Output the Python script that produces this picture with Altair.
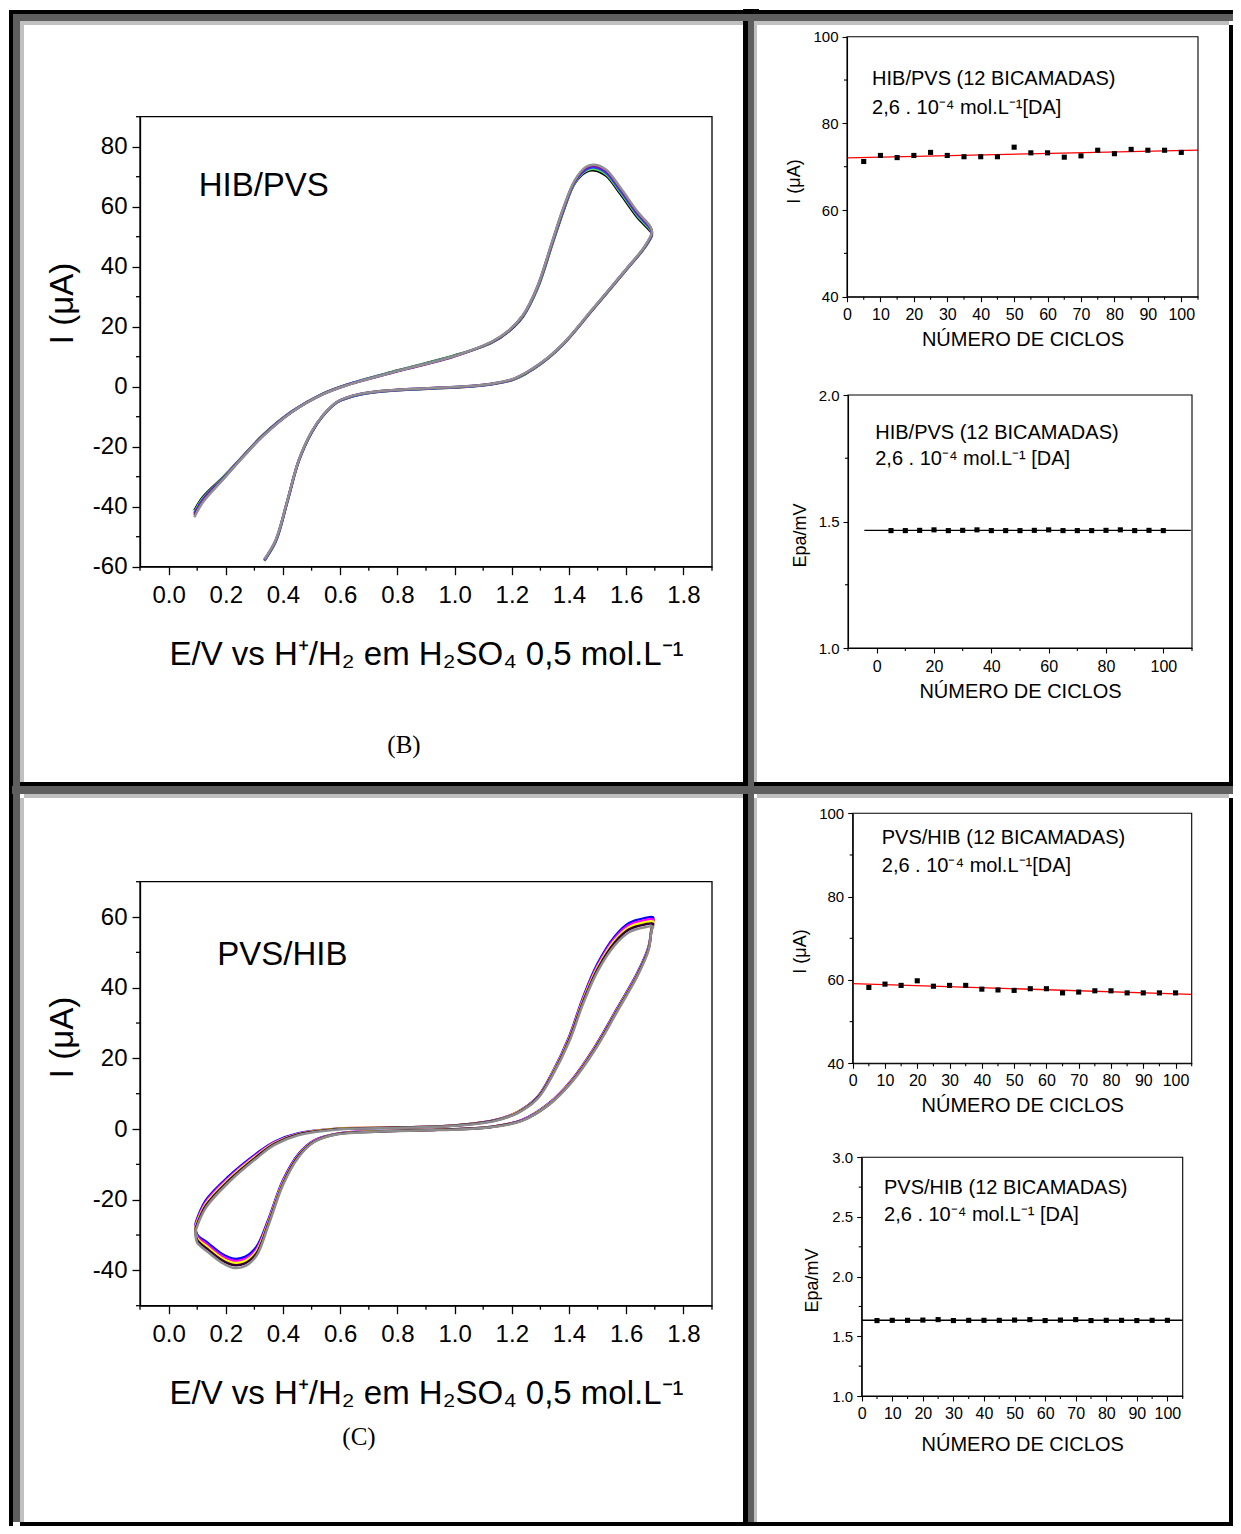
import altair as alt
import pandas as pd

W, H = 1225, 1518          # drawing size that fits the 1241x1534 window with its 8px margin
M = 8
SANS = "Liberation Sans"
SERIF = "Liberation Serif"


def px(v):
    """page pixel -> chart pixel"""
    return v - M


# ---------------- (B) HIB/PVS voltammograms ----------------
E_B = [0.09, 0.12, 0.19, 0.26, 0.33, 0.43, 0.54, 0.62, 0.80, 1.00,
       1.13, 1.19, 1.24, 1.29, 1.34, 1.38, 1.42, 1.46, 1.49, 1.53,
       1.58, 1.64, 1.685, 1.69, 1.665, 1.60, 1.48, 1.38, 1.30, 1.21,
       1.13, 1.00, 0.80, 0.67, 0.59, 0.54, 0.50, 0.455, 0.415, 0.375,
       0.335]
I_B_1 = [-41.3, -36.8, -30.2, -23.1, -16.1, -8.3, -2.3, 0.6, 5.4, 10.4,
         14.7, 18.5, 23.5, 32.8, 47.0, 58.4, 67.8, 71.6, 72.1, 70.3,
         64.2, 56.3, 51.8, 50.7, 46.4, 38.9, 25.3, 14.1, 7.5, 2.5,
         0.8, -0.3, -1.2, -2.6, -5.2, -9.7, -15.3, -24.8, -38.4, -51.5,
         -58.0]
I_B_2 = [-41.8, -37.2, -30.4, -23.2, -16.2, -8.4, -2.4, 0.5, 5.3, 10.3,
         14.8, 18.6, 23.7, 33.0, 47.3, 58.7, 68.0, 72.0, 72.6, 70.8,
         64.8, 56.9, 52.2, 50.9, 46.5, 39.0, 25.4, 14.2, 7.6, 2.6,
         0.9, -0.2, -1.1, -2.5, -5.1, -9.6, -15.2, -24.7, -38.3, -51.4,
         -57.9]
I_B_3 = [-42.3, -37.6, -30.6, -23.3, -16.3, -8.4, -2.4, 0.5, 5.2, 10.2,
         14.9, 18.7, 23.8, 33.2, 47.6, 59.0, 68.2, 72.4, 73.1, 71.3,
         65.3, 57.4, 52.6, 51.1, 46.6, 39.1, 25.5, 14.3, 7.7, 2.7,
         0.9, -0.2, -1.1, -2.5, -5.1, -9.6, -15.2, -24.7, -38.3, -51.3,
         -57.8]
I_B_4 = [-42.8, -38.0, -30.8, -23.4, -16.4, -8.5, -2.5, 0.4, 5.1, 10.1,
         14.9, 18.7, 23.9, 33.4, 47.8, 59.3, 68.5, 72.9, 73.6, 71.9,
         65.9, 57.9, 53.0, 51.3, 46.7, 39.1, 25.5, 14.3, 7.7, 2.7,
         1.0, -0.1, -1.0, -2.4, -5.0, -9.5, -15.1, -24.6, -38.1, -51.1,
         -57.6]
I_B_5 = [-43.5, -38.5, -31.0, -23.5, -16.5, -8.5, -2.5, 0.4, 5.2, 10.2,
         15.0, 18.8, 24.0, 33.5, 48.0, 59.5, 68.8, 73.3, 74.0, 72.3,
         66.3, 58.3, 53.3, 51.5, 46.8, 39.2, 25.6, 14.4, 7.8, 2.8,
         1.0, -0.1, -1.0, -2.4, -5.0, -9.5, -15.0, -24.5, -38.0, -51.0,
         -57.5]
CICLOS_B = ["ciclo 1", "ciclo 2", "ciclo 3", "ciclo 4", "ciclo 5"]
CORES_B = ["#000000", "#5ee05e", "#2a3cff", "#8a0a9a", "#909090"]

# ---------------- (C) PVS/HIB voltammograms ----------------
E_C = [0.095, 0.13, 0.21, 0.31, 0.37, 0.455, 0.59, 0.80, 1.00, 1.14,
       1.22, 1.29, 1.34, 1.40, 1.45, 1.50, 1.56, 1.61, 1.665, 1.694,
       1.689, 1.678, 1.638, 1.571, 1.49, 1.409, 1.329, 1.235, 1.127, 0.94,
       0.74, 0.59, 0.51, 0.455, 0.40, 0.348, 0.307, 0.267, 0.227, 0.186,
       0.133, 0.099, 0.095]
I_C_1 = [-26.5, -20.2, -13.4, -6.8, -3.6, -1.2, 0.1, 0.4, 1.0, 2.5,
         4.8, 9.1, 15.7, 26.0, 37.4, 46.8, 54.5, 58.3, 59.7, 59.9,
         57.2, 51.5, 44.0, 34.5, 23.2, 13.8, 7.2, 2.5, 0.6, -0.2,
         -0.6, -1.3, -3.2, -7.0, -14.5, -25.8, -33.4, -36.2, -36.7, -35.3,
         -32.0, -29.8, -26.5]
I_C_2 = [-27.0, -20.7, -13.8, -7.1, -3.8, -1.3, 0.1, 0.4, 1.0, 2.5,
         4.8, 9.0, 15.5, 25.7, 37.0, 46.3, 54.0, 57.7, 59.1, 59.3,
         57.0, 51.3, 43.8, 34.3, 23.0, 13.7, 7.1, 2.5, 0.6, -0.2,
         -0.6, -1.3, -3.3, -7.2, -14.8, -26.2, -34.0, -36.8, -37.3, -35.9,
         -32.6, -30.3, -27.0]
I_C_3 = [-27.5, -21.2, -14.2, -7.4, -4.0, -1.4, 0.1, 0.4, 1.0, 2.4,
         4.7, 8.9, 15.3, 25.4, 36.6, 45.8, 53.4, 57.1, 58.5, 58.7,
         56.8, 51.1, 43.6, 34.1, 22.8, 13.5, 7.0, 2.4, 0.6, -0.2,
         -0.6, -1.4, -3.4, -7.4, -15.1, -26.6, -34.6, -37.4, -37.9, -36.5,
         -33.2, -30.8, -27.5]
I_C_4 = [-28.0, -21.7, -14.6, -7.7, -4.2, -1.5, 0.0, 0.4, 1.0, 2.4,
         4.6, 8.8, 15.1, 25.1, 36.2, 45.3, 52.8, 56.5, 57.9, 58.1,
         56.6, 50.9, 43.4, 33.9, 22.6, 13.4, 6.9, 2.4, 0.6, -0.2,
         -0.7, -1.4, -3.5, -7.6, -15.4, -27.0, -35.2, -38.0, -38.5, -37.1,
         -33.8, -31.3, -28.0]
I_C_5 = [-28.6, -22.3, -15.1, -8.1, -4.5, -1.7, -0.1, 0.3, 0.9, 2.3,
         4.5, 8.6, 14.8, 24.6, 35.6, 44.6, 52.0, 55.7, 57.1, 57.3,
         56.3, 50.6, 43.1, 33.6, 22.3, 13.2, 6.8, 2.3, 0.5, -0.3,
         -0.7, -1.5, -3.6, -7.9, -15.8, -27.5, -35.9, -38.8, -39.3, -37.8,
         -34.5, -32.0, -28.6]
CICLOS_C = ["ciclo 1", "ciclo 2", "ciclo 3", "ciclo 4", "ciclo 5"]
CORES_C = ["#0000ff", "#ff00ff", "#ffff00", "#300030", "#8c8c8c"]

# ---------------- stability panels ----------------
CICLOS = [5, 10, 15, 20, 25, 30, 35, 40, 45, 50,
          55, 60, 65, 70, 75, 80, 85, 90, 95, 100]
I_HIB = [71.2, 72.6, 72.1, 72.6, 73.3, 72.6, 72.3, 72.3, 72.3, 74.5,
         73.2, 73.2, 72.2, 72.5, 73.8, 73.0, 74.0, 73.8, 73.8, 73.3]
EPA_HIB = [1.464, 1.464, 1.465, 1.467, 1.464, 1.465, 1.467, 1.464, 1.464, 1.464,
           1.465, 1.467, 1.464, 1.464, 1.464, 1.465, 1.467, 1.464, 1.465, 1.464]
I_PVS = [58.2, 59.0, 58.7, 59.8, 58.5, 58.7, 58.7, 57.8, 57.6, 57.5,
         57.9, 57.9, 56.9, 57.1, 57.4, 57.4, 56.9, 56.9, 56.9, 56.9]
EPA_PVS = [1.632, 1.634, 1.634, 1.636, 1.640, 1.632, 1.634, 1.634, 1.634, 1.636,
           1.640, 1.632, 1.636, 1.640, 1.632, 1.634, 1.634, 1.632, 1.634, 1.634]

# ---------------- tick values (major = labelled, minor = short) ----------------
CV_X_MAJOR = [0.0, 0.2, 0.4, 0.6, 0.8, 1.0, 1.2, 1.4, 1.6, 1.8]
CV_X_MINOR = [-0.1, 0.1, 0.3, 0.5, 0.7, 0.9, 1.1, 1.3, 1.5, 1.7, 1.9]
CVB_Y_MAJOR = [-60, -40, -20, 0, 20, 40, 60, 80]
CVB_Y_MINOR = [-50, -30, -10, 10, 30, 50, 70, 90]
CVC_Y_MAJOR = [-40, -20, 0, 20, 40, 60]
CVC_Y_MINOR = [-50, -30, -10, 10, 30, 50, 70]
CIC_MAJOR = [0, 10, 20, 30, 40, 50, 60, 70, 80, 90, 100]
CIC_MINOR = [5, 15, 25, 35, 45, 55, 65, 75, 85, 95, 105]
CIC_B_MAJOR = [0, 20, 40, 60, 80, 100]
CIC_B_MINOR = [-10, 10, 30, 50, 70, 90, 110]
I_MAJOR = [40, 60, 80, 100]
I_MINOR = [50, 70, 90]
EPA2_MAJOR = [1.0, 1.5, 2.0]
EPA2_MINOR = [1.25, 1.75]
EPA3_MAJOR = [1.0, 1.5, 2.0, 2.5, 3.0]
EPA3_MINOR = [1.25, 1.75, 2.25, 2.75]

ONE = pd.DataFrame({"k": [0]})


def cv_table(E, curves, names):
    rows = []
    for name, I in zip(names, curves):
        for k, (e, i) in enumerate(zip(E, I)):
            rows.append({"ciclo": name, "ordem": k, "E": e, "I": i})
    return pd.DataFrame(rows)


def axis(orient, offset, values, label_expr, title, label_size, title_size,
         title_pad, label_pad, major, width, title_y=None):
    kw = dict(
        orient=orient, offset=offset, values=values, labelExpr=label_expr,
        tickSize=major, tickWidth=width, domainWidth=width, domainColor="black",
        tickColor="black", labelColor="black", labelFont=SANS, labelFontSize=label_size,
        labelPadding=label_pad, labelOverlap=False, labelFlush=False,
        title=title, titleFont=SANS, titleFontSize=title_size, titleFontWeight="normal",
        titleColor="black", titlePadding=title_pad, grid=False,
    )
    if title_y is not None:
        kw["titleY"] = title_y
    return alt.Axis(**kw)


class Panel:
    """scales + axes shared by every layer of one sub-plot"""

    def __init__(self, xs, ys, ax, ay, xdom, ydom):
        self.xs, self.ys, self.ax, self.ay = xs, ys, ax, ay
        self.xdom, self.ydom = xdom, ydom

    def X(self, field):
        return alt.X(field, scale=self.xs, axis=self.ax)

    def Y(self, field):
        return alt.Y(field, scale=self.ys, axis=self.ay)

    def XD(self, v):
        return alt.XDatum(v, type="quantitative", scale=self.xs, axis=self.ax)

    def YD(self, v):
        return alt.YDatum(v, type="quantitative", scale=self.ys, axis=self.ay)

    def minor_ticks(self, xminor, yminor, size, width):
        tx = alt.Chart(pd.DataFrame({"v": xminor})).mark_rule(
            color="black", strokeWidth=width, y2Offset=size).encode(
            x=self.X("v:Q"), y=self.YD(self.ydom[0]), y2=alt.Y2Datum(self.ydom[0]))
        ty = alt.Chart(pd.DataFrame({"v": yminor})).mark_rule(
            color="black", strokeWidth=width, x2Offset=-size).encode(
            y=self.Y("v:Q"), x=self.XD(self.xdom[0]), x2=alt.X2Datum(self.xdom[0]))
        return [tx, ty]

    def box(self, width):
        return alt.Chart(ONE).mark_rect(filled=False, color="black", strokeWidth=width).encode(
            x=self.XD(self.xdom[0]), x2=alt.X2Datum(self.xdom[1]),
            y=self.YD(self.ydom[0]), y2=alt.Y2Datum(self.ydom[1]))

    def note(self, x, y, text, size):
        return alt.Chart(ONE).mark_text(align="left", baseline="middle", font=SANS,
                                        fontSize=size, color="black").encode(
            x=self.XD(x), y=self.YD(y), text=alt.value(text))


def caption(xc, yc, text):
    return alt.Chart(ONE).mark_text(align="center", baseline="middle", font=SERIF,
                                    fontSize=25, color="black").encode(
        x=alt.value(px(xc)), y=alt.value(px(yc)), text=alt.value(text))


X_TITLE_CV = "E/V vs H\u207a/H\u2082 em H\u2082SO\u2084 0,5 mol.L\u207b\u00b9"
CONC1 = "2,6 . 10\u207b\u2074 mol.L\u207b\u00b9[DA]"
CONC2 = "2,6 . 10\u207b\u2074 mol.L\u207b\u00b9 [DA]"


def cv_panel(df, names, colors, ydom, ytop, ybot, ymajor, yminor, label, lab_xy, cap,
             cap_xy, title_y):
    xdom = [-0.1, 1.9]
    xs = alt.Scale(domain=xdom, range=[px(140), px(712)], nice=False, zero=False)
    ys = alt.Scale(domain=ydom, range=[px(ybot), px(ytop)], nice=False, zero=False)
    ax = axis("bottom", px(ybot) - H, CV_X_MAJOR, "format(datum.value, '.1f')",
              X_TITLE_CV, 24, 33, 31, 9, 8, 1.3)
    ay = axis("left", -px(140), ymajor, "'' + datum.value", "I (\u03bcA)",
              24, 33, 13, 5, 8, 1.3, title_y=px(title_y))
    p = Panel(xs, ys, ax, ay, xdom, ydom)
    lines = alt.Chart(df).mark_line(strokeWidth=2.5, interpolate="catmull-rom").encode(
        x=p.X("E:Q"),
        y=p.Y("I:Q"),
        color=alt.Color("ciclo:N", scale=alt.Scale(domain=names, range=colors), legend=None),
        order=alt.Order("ordem:Q"),
    )
    return alt.layer(
        lines,
        p.box(1.3),
        *p.minor_ticks(CV_X_MINOR, yminor, 4, 1.3),
        p.note(lab_xy[0], lab_xy[1], label, 33),
        caption(cap_xy[0], cap_xy[1], cap),
    )


def stab_panel(ycol, yvals, xdom, xr, ydom, yr, xmajor, xminor, xlab, ymajor, yminor, ylab,
               ytitle, title_y, fit_color, fit_extent, texts, tx, ty, pads):
    df = pd.DataFrame({"ciclo": CICLOS, ycol: yvals})
    xs = alt.Scale(domain=xdom, range=[px(xr[0]), px(xr[1])], nice=False, zero=False)
    ys = alt.Scale(domain=ydom, range=[px(yr[0]), px(yr[1])], nice=False, zero=False)
    ax = axis("bottom", px(yr[0]) - H, xmajor, xlab, "N\u00daMERO DE CICLOS",
              16, 20, pads[0], pads[1], 5, 1.1)
    ay = axis("left", -px(xr[0]), ymajor, ylab, ytitle,
              15, 18, pads[2], 4, 5, 1.1, title_y=px(title_y))
    p = Panel(xs, ys, ax, ay, xdom, ydom)
    pts = alt.Chart(df).mark_square(size=26, color="black", opacity=1).encode(
        x=p.X("ciclo:Q"), y=p.Y(f"{ycol}:Q"))
    fit = alt.Chart(df).transform_regression("ciclo", ycol, extent=fit_extent).mark_line(
        color=fit_color, strokeWidth=1.4).encode(x=p.X("ciclo:Q"), y=p.Y(f"{ycol}:Q"))
    layers = [fit, pts, p.box(1.1), *p.minor_ticks(xminor, yminor, 3, 1.1)]
    for t, y in zip(texts, ty):
        layers.append(p.note(tx, y, t, 20))
    return alt.layer(*layers)


# ---------------- build panels ----------------
df_B = cv_table(E_B, [I_B_1, I_B_2, I_B_3, I_B_4, I_B_5], CICLOS_B)
df_C = cv_table(E_C, [I_C_1, I_C_2, I_C_3, I_C_4, I_C_5], CICLOS_C)

cv_B = cv_panel(df_B, CICLOS_B, CORES_B, [-60, 90], 116.7, 566.7, CVB_Y_MAJOR, CVB_Y_MINOR,
                "HIB/PVS", (0.105, 67), "(B)", (404, 745), 303)
cv_C = cv_panel(df_C, CICLOS_C, CORES_C, [-50, 70], 881.7, 1305.7, CVC_Y_MAJOR, CVC_Y_MINOR,
                "PVS/HIB", (0.17, 49.2), "(C)", (359, 1437), 1037)

LAB_INT = "'' + datum.value"
LAB_DEC = "format(datum.value, '.1f')"

tr_up = stab_panel("I", I_HIB, [0, 105], (847, 1198), [40, 100], (296.7, 36.7),
                   CIC_MAJOR, CIC_MINOR, LAB_INT, I_MAJOR, I_MINOR, LAB_INT, "I (\u03bcA)", 181,
                   "red", [0, 105], ["HIB/PVS (12 BICAMADAS)", CONC1], 7.5, [90.2, 83.5],
                   (7, 5, 9))
tr_lo = stab_panel("Epa", EPA_HIB, [-10, 110], (848, 1192), [1.0, 2.0], (648, 395),
                   CIC_B_MAJOR, CIC_B_MINOR, LAB_INT, EPA2_MAJOR, EPA2_MINOR, LAB_DEC,
                   "Epa/mV", 535, "black", [-4.3, 109.6],
                   ["HIB/PVS (12 BICAMADAS)", CONC2], -0.5, [1.851, 1.746], (7, 5, 9))
br_up = stab_panel("I", I_PVS, [0, 105], (852.7, 1191.7), [40, 100], (1063.3, 813.3),
                   CIC_MAJOR, CIC_MINOR, LAB_INT, I_MAJOR, I_MINOR, LAB_INT, "I (\u03bcA)", 951,
                   "red", [0, 105], ["PVS/HIB (12 BICAMADAS)", CONC1], 9.0, [94.0, 87.4],
                   (7, 4, 9))
br_lo = stab_panel("Epa", EPA_PVS, [0, 105], (861.7, 1182.7), [1.0, 3.0], (1396, 1157.3),
                   CIC_MAJOR, CIC_MINOR, LAB_INT, EPA3_MAJOR, EPA3_MINOR, LAB_DEC,
                   "Epa/mV", 1280, "black", [0, 105],
                   ["PVS/HIB (12 BICAMADAS)", CONC2], 7.3, [2.74, 2.517], (13, 4, 10))

# ---------------- page frame (3-D table borders) ----------------
BLACK, DARK, LIGHT = "#000000", "#5f5f5f", "#c0c0c0"
FRAME = [
    (9, 1233, 10, 14, BLACK), (743, 759, 9, 14, BLACK),
    (9, 13, 10, 1526, BLACK), (743, 748, 9, 1526, BLACK),
    (20, 743, 782, 786, BLACK), (754, 1233, 782, 786, BLACK),
    (1229, 1233, 25, 782, BLACK), (1229, 1233, 798, 1526, BLACK),
    (20, 1233, 1522, 1526, BLACK),
    (13, 1233, 14, 21, DARK), (13, 20, 14, 1522, DARK),
    (748, 754, 14, 1522, DARK), (12, 1233, 786, 794, DARK),
    (20, 743, 21, 25, LIGHT), (757, 1229, 21, 25, LIGHT),
    (20, 24, 21, 782, LIGHT), (20, 24, 798, 1522, LIGHT),
    (754, 757, 21, 782, LIGHT), (754, 757, 798, 1522, LIGHT),
    (24, 743, 794, 798, LIGHT), (757, 1229, 794, 798, LIGHT),
]
frame_layers = [
    alt.Chart(ONE).mark_rect(color=c).encode(
        x=alt.value(px(x1)), x2=alt.value(px(x2)), y=alt.value(px(y1)), y2=alt.value(px(y2)))
    for (x1, x2, y1, y2, c) in FRAME
]

chart = alt.layer(*frame_layers, cv_B, cv_C, tr_up, tr_lo, br_up, br_lo).resolve_scale(
    x="independent", y="independent", color="independent"
).resolve_axis(
    x="independent", y="independent"
).properties(
    width=W, height=H, padding=0, background="white",
    autosize=alt.AutoSizeParams(type="none"),
).configure_view(stroke=None)

chart.save("out.html", embed_options={"renderer": "svg", "actions": False})
